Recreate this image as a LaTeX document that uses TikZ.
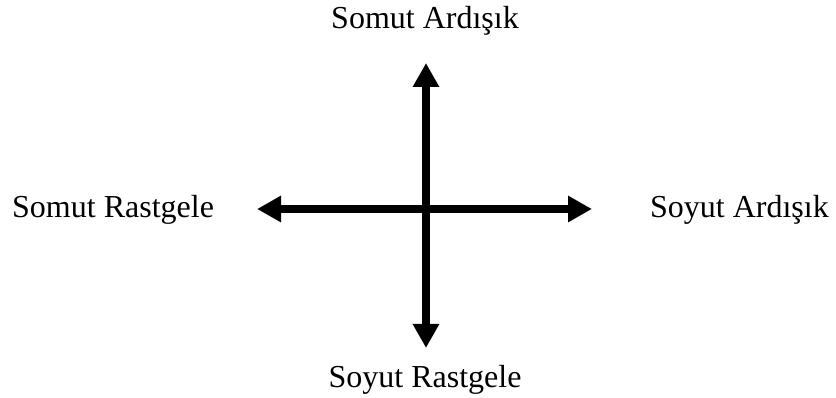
\documentclass[tikz,border=0pt]{standalone}
\usepackage{fontspec}
\setmainfont{Liberation Serif}
\usetikzlibrary{arrows.meta}
\begin{document}
\begin{tikzpicture}[x=1pt,y=-1pt,
  lbl/.style={font=\fontsize{32}{36}\selectfont, inner sep=0pt},
  axis/.style={line width=8pt, {Triangle[length=24pt,width=25pt]}-{Triangle[length=24pt,width=25pt]}}]
\useasboundingbox (0,0) rectangle (836,398);
\coordinate (top) at (426,63);
\coordinate (bot) at (426,348);
\coordinate (lft) at (257,209);
\coordinate (rgt) at (592,209);
\draw[axis] (top) -- (bot);
\draw[axis] (lft) -- (rgt);
\node[lbl, anchor=base] (na) at (425,29) {Somut Ardışık};
\node[lbl, anchor=base west] (nl) at (12,218) {Somut Rastgele};
\node[lbl, anchor=base east] (nr) at (829,218) {Soyut Ardışık};
\node[lbl, anchor=base] (nb) at (425,387) {Soyut Rastgele};
\end{tikzpicture}
\end{document}
